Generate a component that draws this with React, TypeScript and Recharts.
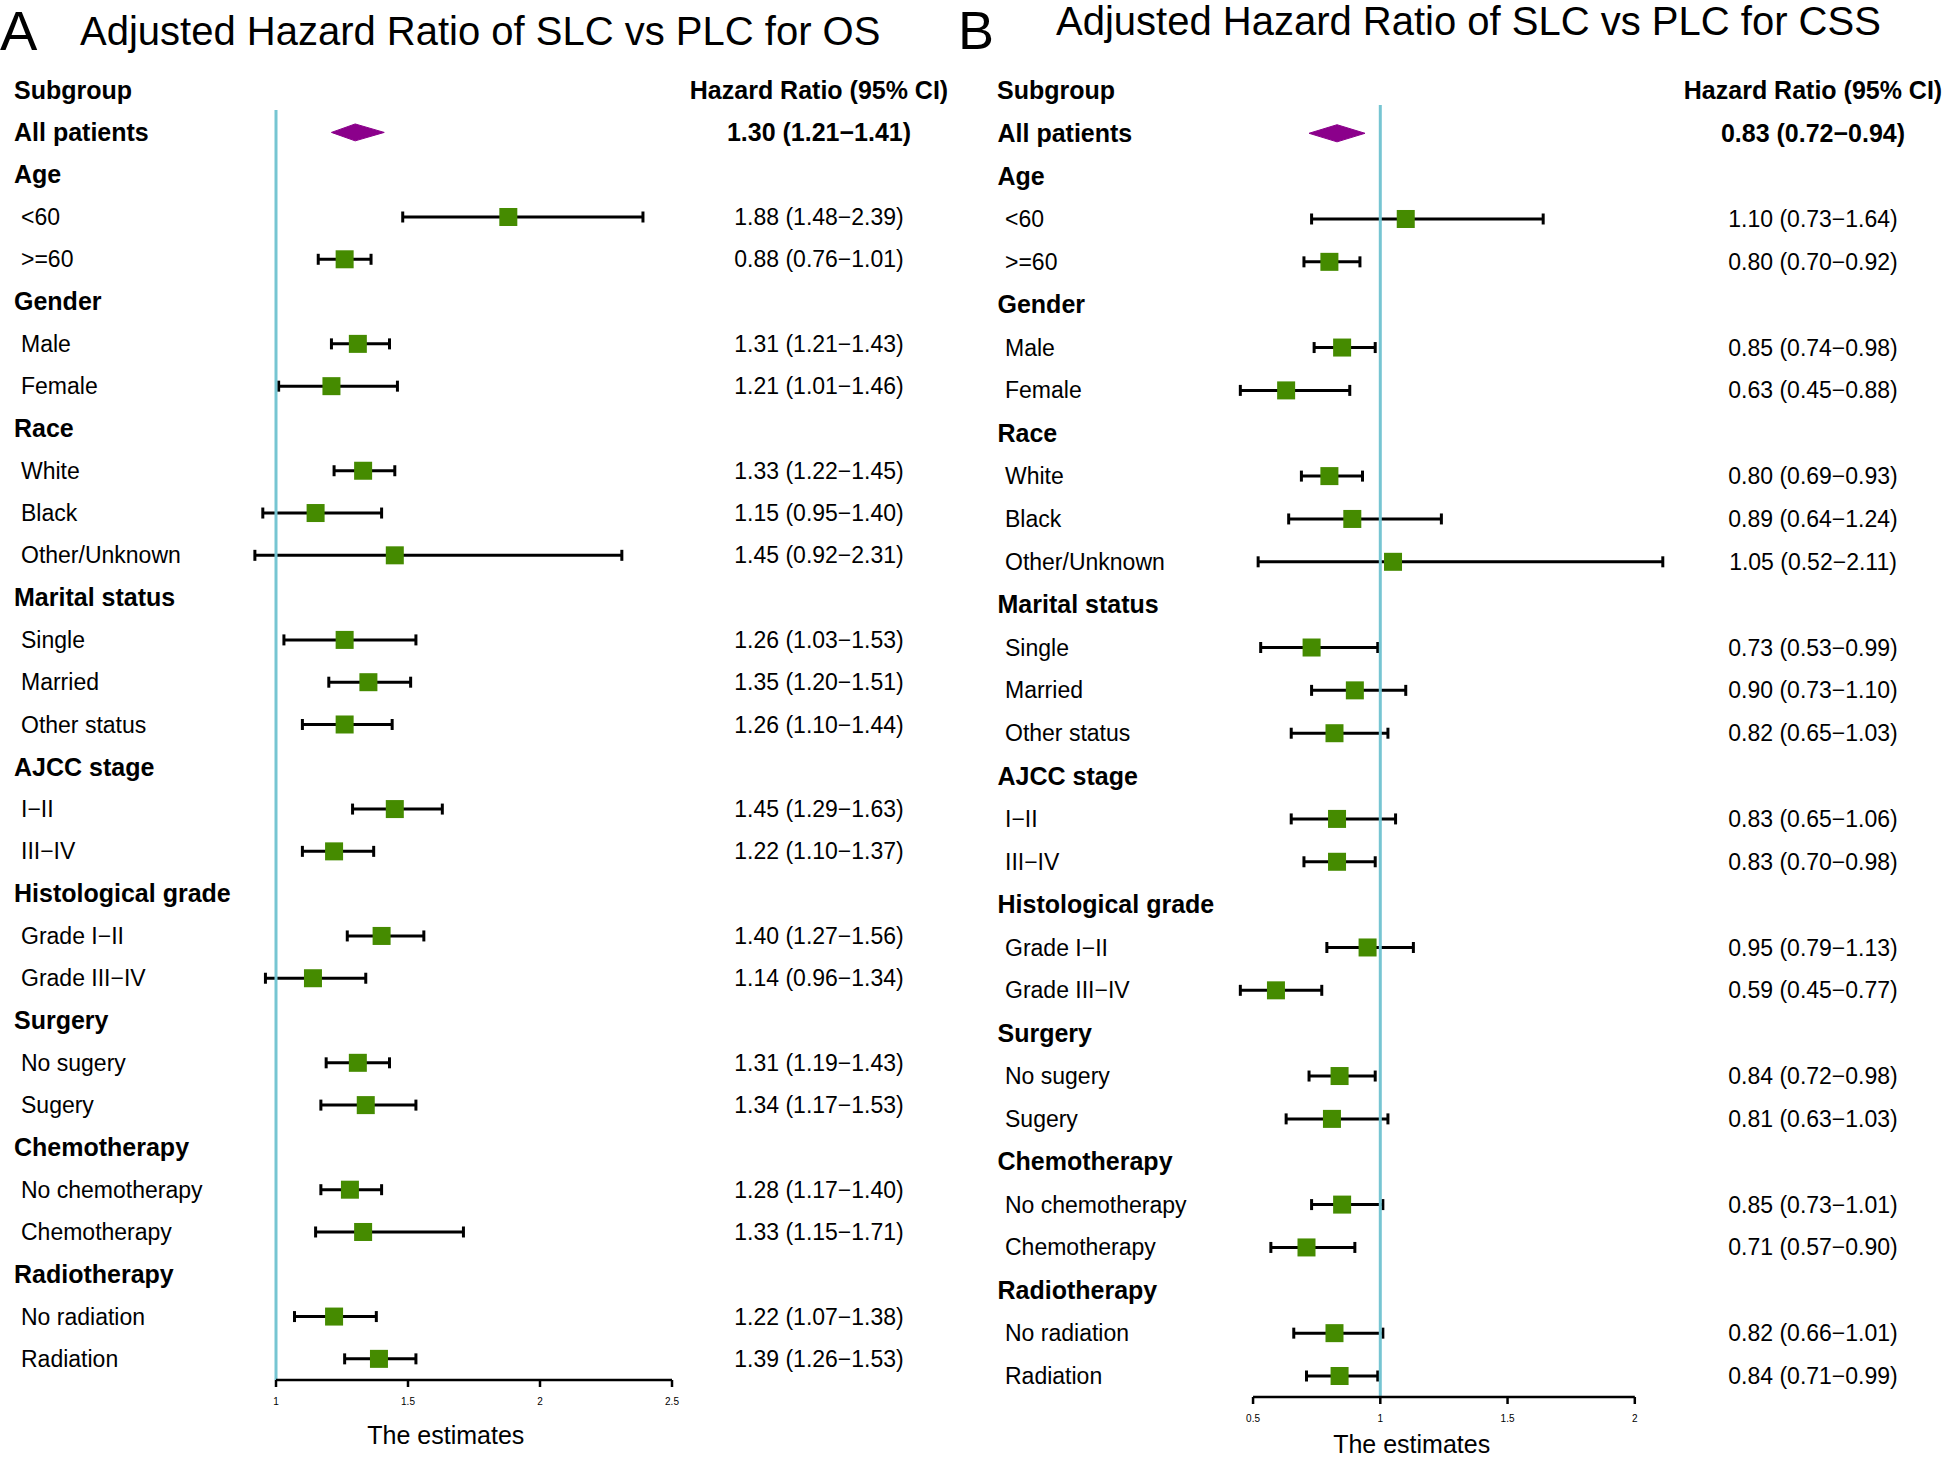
import React from 'react';
import { ScatterChart, Scatter, XAxis, YAxis, ErrorBar, ReferenceLine } from 'recharts';

// rows of the forest plot, top to bottom (row 1 = All patients)
const subgroups = [
  'All patients', 'Age', '<60', '>=60', 'Gender', 'Male', 'Female',
  'Race', 'White', 'Black', 'Other/Unknown',
  'Marital status', 'Single', 'Married', 'Other status',
  'AJCC stage', 'I\u2212II', 'III\u2212IV',
  'Histological grade', 'Grade I\u2212II', 'Grade III\u2212IV',
  'Surgery', 'No sugery', 'Sugery',
  'Chemotherapy', 'No chemotherapy', 'Chemotherapy',
  'Radiotherapy', 'No radiation', 'Radiation',
];
const headingIndex = [0, 1, 4, 7, 11, 15, 18, 21, 24, 27];

// panel A - OS (plotted positions as drawn)
const osEstimate = [1.30, null, 1.88, 1.26, null, 1.31, 1.21, null, 1.33, 1.15, 1.45, null, 1.26, 1.35, 1.26, null, 1.45, 1.22, null, 1.40, 1.14, null, 1.31, 1.34, null, 1.28, 1.33, null, 1.22, 1.39];
const osLower = [1.21, null, 1.48, 1.16, null, 1.21, 1.01, null, 1.22, 0.95, 0.92, null, 1.03, 1.20, 1.10, null, 1.29, 1.10, null, 1.27, 0.96, null, 1.19, 1.17, null, 1.17, 1.15, null, 1.07, 1.26];
const osUpper = [1.41, null, 2.39, 1.36, null, 1.43, 1.46, null, 1.45, 1.40, 2.31, null, 1.53, 1.51, 1.44, null, 1.63, 1.37, null, 1.56, 1.34, null, 1.43, 1.53, null, 1.40, 1.71, null, 1.38, 1.53];
const osText = [
  '1.30 (1.21\u22121.41)', '', '1.88 (1.48\u22122.39)', '0.88 (0.76\u22121.01)', '',
  '1.31 (1.21\u22121.43)', '1.21 (1.01\u22121.46)', '',
  '1.33 (1.22\u22121.45)', '1.15 (0.95\u22121.40)', '1.45 (0.92\u22122.31)', '',
  '1.26 (1.03\u22121.53)', '1.35 (1.20\u22121.51)', '1.26 (1.10\u22121.44)', '',
  '1.45 (1.29\u22121.63)', '1.22 (1.10\u22121.37)', '',
  '1.40 (1.27\u22121.56)', '1.14 (0.96\u22121.34)', '',
  '1.31 (1.19\u22121.43)', '1.34 (1.17\u22121.53)', '',
  '1.28 (1.17\u22121.40)', '1.33 (1.15\u22121.71)', '',
  '1.22 (1.07\u22121.38)', '1.39 (1.26\u22121.53)',
];
const osTicks = [1, 1.5, 2, 2.5];

// panel B - CSS
const cssEstimate = [0.83, null, 1.10, 0.80, null, 0.85, 0.63, null, 0.80, 0.89, 1.05, null, 0.73, 0.90, 0.82, null, 0.83, 0.83, null, 0.95, 0.59, null, 0.84, 0.81, null, 0.85, 0.71, null, 0.82, 0.84];
const cssLower = [0.72, null, 0.73, 0.70, null, 0.74, 0.45, null, 0.69, 0.64, 0.52, null, 0.53, 0.73, 0.65, null, 0.65, 0.70, null, 0.79, 0.45, null, 0.72, 0.63, null, 0.73, 0.57, null, 0.66, 0.71];
const cssUpper = [0.94, null, 1.64, 0.92, null, 0.98, 0.88, null, 0.93, 1.24, 2.11, null, 0.99, 1.10, 1.03, null, 1.06, 0.98, null, 1.13, 0.77, null, 0.98, 1.03, null, 1.01, 0.90, null, 1.01, 0.99];
const cssText = [
  '0.83 (0.72\u22120.94)', '', '1.10 (0.73\u22121.64)', '0.80 (0.70\u22120.92)', '',
  '0.85 (0.74\u22120.98)', '0.63 (0.45\u22120.88)', '',
  '0.80 (0.69\u22120.93)', '0.89 (0.64\u22121.24)', '1.05 (0.52\u22122.11)', '',
  '0.73 (0.53\u22120.99)', '0.90 (0.73\u22121.10)', '0.82 (0.65\u22121.03)', '',
  '0.83 (0.65\u22121.06)', '0.83 (0.70\u22120.98)', '',
  '0.95 (0.79\u22121.13)', '0.59 (0.45\u22120.77)', '',
  '0.84 (0.72\u22120.98)', '0.81 (0.63\u22121.03)', '',
  '0.85 (0.73\u22121.01)', '0.71 (0.57\u22120.90)', '',
  '0.82 (0.66\u22121.01)', '0.84 (0.71\u22120.99)',
];
const cssTicks = [0.5, 1, 1.5, 2];

const FONT = "'Liberation Sans', Arial, Helvetica, sans-serif";
const SQUARE = '#458B00';
const DIAMOND = '#8B008B';
const REF = '#76C5D2';
const DIAMOND_HALF = 0.2; // half height of the summary diamond, in rows
const H = 1457;

interface PanelProps {
  estimate: (number | null)[];
  lower: (number | null)[];
  upper: (number | null)[];
  text: string[];
  ticks: number[];
  xDomain: [number, number];
  yDomain: [number, number];
  left: number;
  width: number;
  top: number;
  axisY: number;
  leftAxisWidth: number;
  rightAxisWidth: number;
  xAxisHeight: number;
  headX: number;
  itemX: number;
  valueX: number;
  labelDx: number;
}

const ciDelta = (d: any) => {
  const p = d && d.payload ? d.payload : d;
  return [p.hr - p.lo, p.hi - p.hr];
};

const renderSquare = (p: any) => (
  <rect x={p.cx - 9} y={p.cy - 9} width={18} height={18} fill={SQUARE} />
);

const Panel: React.FC<PanelProps> = (cfg) => {
  const rows = subgroups.map((_, i) => i + 1);
  const valueRows = rows.filter((r) => cfg.text[r - 1] !== '');

  const points = subgroups
    .map((_, i) => ({ row: i + 1, hr: cfg.estimate[i], lo: cfg.lower[i], hi: cfg.upper[i] }))
    .filter((d, i) => i > 0 && d.hr != null);

  const s = { hr: cfg.estimate[0] as number, lo: cfg.lower[0] as number, hi: cfg.upper[0] as number };
  const diamond = [
    { row: 1, hr: s.lo },
    { row: 1 - DIAMOND_HALF, hr: s.hr },
    { row: 1, hr: s.hi },
    { row: 1 + DIAMOND_HALF, hr: s.hr },
    { row: 1, hr: s.lo },
  ];

  const subgroupTick = (p: any) => {
    const i = p.payload.value - 1;
    const bold = headingIndex.includes(i);
    return (
      <text x={bold ? cfg.headX : cfg.itemX} y={p.y} dy="0.35em" fontSize={bold ? 25 : 23}
        fontWeight={bold ? 700 : 400} fill="#000">
        {subgroups[i]}
      </text>
    );
  };

  const valueTick = (p: any) => {
    const i = p.payload.value - 1;
    return (
      <text x={cfg.valueX} y={p.y} dy="0.35em" textAnchor="middle" fontSize={i === 0 ? 25 : 23}
        fontWeight={i === 0 ? 700 : 400} fill="#000">
        {cfg.text[i]}
      </text>
    );
  };

  const bottom = H - cfg.axisY - cfg.xAxisHeight;

  return (
    <div style={{ position: 'absolute', left: cfg.left, top: 0 }}>
      <ScatterChart width={cfg.width} height={H}
        margin={{ top: cfg.top, right: 0, bottom, left: 0 }}>
        <XAxis type="number" dataKey="hr" domain={cfg.xDomain} allowDataOverflow ticks={cfg.ticks}
          interval={0} axisLine={false} tickLine={{ stroke: '#000', strokeWidth: 2.5 }}
          tickSize={7} tickMargin={11} height={cfg.xAxisHeight}
          tick={{ fontSize: 10, fill: '#000' }}
          label={{ value: 'The estimates', position: 'insideBottom', offset: 0, dx: cfg.labelDx, fontSize: 25, fill: '#000' }} />
        <YAxis type="number" dataKey="row" domain={cfg.yDomain} reversed allowDataOverflow
          ticks={rows} interval={0} width={cfg.leftAxisWidth} axisLine={false} tickLine={false}
          tick={subgroupTick} />
        <YAxis yAxisId="right" orientation="right" type="number" domain={cfg.yDomain} reversed
          allowDataOverflow ticks={valueRows} interval={0} width={cfg.rightAxisWidth}
          axisLine={false} tickLine={false} tick={valueTick} />
        <Scatter data={diamond} shape={() => <g />} line={{ fill: DIAMOND, stroke: DIAMOND, strokeWidth: 1 }}
          lineType="joint" isAnimationActive={false} />
        <Scatter data={points} shape={renderSquare} isAnimationActive={false}>
          <ErrorBar dataKey={ciDelta} direction="x" width={5.5} stroke="#000" strokeWidth={3}
            isAnimationActive={false} />
        </Scatter>
        <ReferenceLine x={1} stroke={REF} strokeWidth={3} ifOverflow="visible" />
        <ReferenceLine ifOverflow="visible" stroke="#000" strokeWidth={2.5}
          segment={[{ x: cfg.ticks[0], y: cfg.yDomain[1] }, { x: cfg.ticks[cfg.ticks.length - 1], y: cfg.yDomain[1] }]} />
      </ScatterChart>
    </div>
  );
};

const App: React.FC = () => {
  return (
    <div style={{ position: 'absolute', left: 0, top: 0, width: 1946, height: H, background: '#fff', fontFamily: FONT }}>
      <Panel estimate={osEstimate} lower={osLower} upper={osUpper} text={osText} ticks={osTicks}
        xDomain={[0.9, 2.5]} yDomain={[0.47, 30.5]} left={0} width={955} top={110} axisY={1380}
        leftAxisWidth={249.6} rightAxisWidth={283} xAxisHeight={64} headX={14} itemX={21}
        valueX={819} labelDx={-15} />
      <Panel estimate={cssEstimate} lower={cssLower} upper={cssUpper} text={cssText} ticks={cssTicks}
        xDomain={[0.4, 2.2]} yDomain={[0.34, 30.49]} left={980} width={966} top={105} axisY={1397}
        leftAxisWidth={247.6} rightAxisWidth={260.3} xAxisHeight={56} headX={17.5} itemX={25}
        valueX={833} labelDx={-45} />
      <svg width={1946} height={120} style={{ position: 'absolute', left: 0, top: 0 }}>
        <text x={0} y={50} fontSize={56} fill="#000">A</text>
        <text x={80} y={45} fontSize={40} fill="#000">Adjusted Hazard Ratio of SLC vs PLC for OS</text>
        <text x={958} y={49} fontSize={54} fill="#000">B</text>
        <text x={1056} y={35} fontSize={40} fill="#000">Adjusted Hazard Ratio of SLC vs PLC for CSS</text>
        <text x={14} y={90.6} dy="0.35em" fontSize={25} fontWeight={700}>Subgroup</text>
        <text x={819} y={90.6} dy="0.35em" fontSize={25} fontWeight={700} textAnchor="middle">Hazard Ratio (95% CI)</text>
        <text x={997} y={90.6} dy="0.35em" fontSize={25} fontWeight={700}>Subgroup</text>
        <text x={1813} y={90.6} dy="0.35em" fontSize={25} fontWeight={700} textAnchor="middle">Hazard Ratio (95% CI)</text>
      </svg>
    </div>
  );
};

export default App;
